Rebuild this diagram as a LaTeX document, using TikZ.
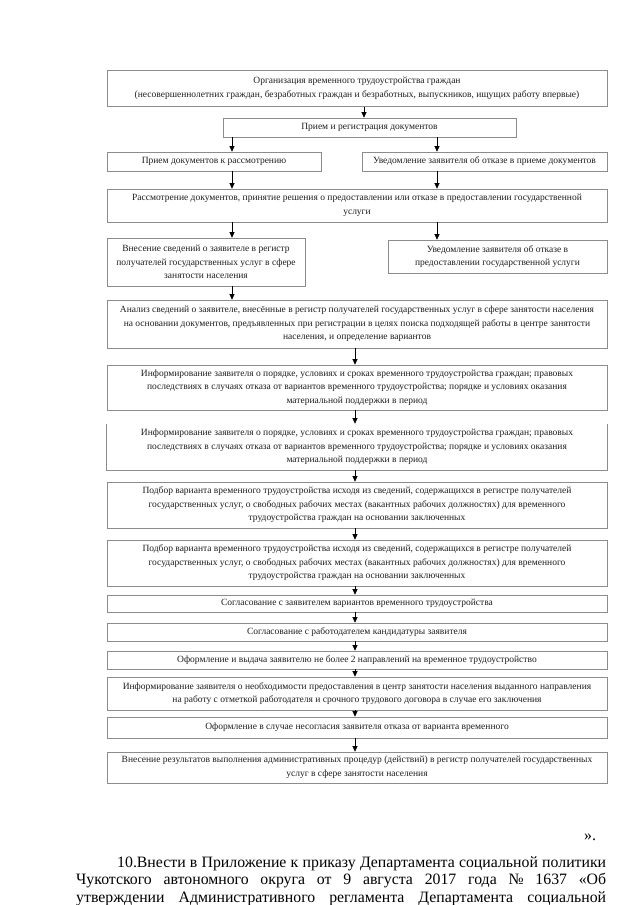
\documentclass[tikz,border=0pt]{standalone}
\usepackage{fontspec}
\setmainfont{Liberation Serif}
\usetikzlibrary{arrows.meta}
\definecolor{boxgray}{RGB}{140,140,140}
\definecolor{txt}{RGB}{30,30,30}
\begin{document}
\begin{tikzpicture}[x=1pt,y=-1pt,
  box/.style={draw=boxgray, line width=0.7pt, inner sep=0pt, align=center, text=txt,
    font=\fontsize{9.5}{13.6}\selectfont},
  arr/.style={line width=0.6pt, -{Triangle[width=5pt,length=5.5pt]}},
  para/.style={inner sep=0pt, anchor=base west, font=\fontsize{15.8}{17}\selectfont, text=black}]
\fill[white] (0,0) rectangle (640,905);
\useasboundingbox (0,0) rectangle (640,905);

\coordinate (xa) at (364,0);
\coordinate (xl) at (232,0);
\coordinate (xr) at (437,0);
\coordinate (xm) at (355,0);

\node[box, minimum width=500pt, minimum height=36pt] (b1) at (357,88.5)
  {Организация временного трудоустройства граждан\\(несовершеннолетних граждан, безработных граждан и безработных, выпускников, ищущих работу впервые)};
\node[box, minimum width=293pt, minimum height=19pt] (b2) at (369.5,127.5)
  {Прием и регистрация документов};
\node[box, minimum width=214pt, minimum height=19pt] (b3l) at (214,161.5)
  {Прием документов к рассмотрению};
\node[box, minimum width=245pt, minimum height=19pt] (b3r) at (484.5,161.5)
  {Уведомление заявителя об отказе в приеме документов};
\node[box, minimum width=500pt, minimum height=33pt] (b4) at (357,205.5)
  {Рассмотрение документов, принятие решения о предоставлении или отказе в предоставлении государственной\\услуги};
\node[box, minimum width=198pt, minimum height=48pt] (b5l) at (206,262)
  {Внесение сведений о заявителе в регистр\\получателей государственных услуг в сфере\\занятости населения};
\node[box, minimum width=219pt, minimum height=33pt] (b5r) at (497.5,256.5)
  {Уведомление заявителя об отказе в\\предоставлении государственной услуги};
\node[box, minimum width=500pt, minimum height=48pt] (b6) at (357,324)
  {Анализ сведений о заявителе, внесённые в регистр получателей государственных услуг в сфере занятости населения\\на основании документов, предъявленных при регистрации в целях поиска подходящей работы в центре занятости\\населения, и определение вариантов};
\node[box, minimum width=500pt, minimum height=45pt] (b7) at (357,387.5)
  {Информирование заявителя о порядке, условиях и сроках временного трудоустройства граждан; правовых\\последствиях в случаях отказа от вариантов временного трудоустройства; порядке и условиях оказания\\материальной поддержки в период};
\node[box, draw=none, minimum width=500pt, minimum height=46pt] (b8) at (357,447)
  {Информирование заявителя о порядке, условиях и сроках временного трудоустройства граждан; правовых\\последствиях в случаях отказа от вариантов временного трудоустройства; порядке и условиях оказания\\материальной поддержки в период};
\draw[boxgray, line width=0.7pt] (b8.north west) -- (b8.south west) -- (b8.south east) -- (b8.north east);
\node[box, minimum width=500pt, minimum height=46pt] (b9) at (357,505)
  {Подбор варианта временного трудоустройства исходя из сведений, содержащихся в регистре получателей\\государственных услуг, о свободных рабочих местах (вакантных рабочих должностях) для временного\\трудоустройства граждан на основании заключенных};
\node[box, minimum width=500pt, minimum height=46pt] (b10) at (357,563)
  {Подбор варианта временного трудоустройства исходя из сведений, содержащихся в регистре получателей\\государственных услуг, о свободных рабочих местах (вакантных рабочих должностях) для временного\\трудоустройства граждан на основании заключенных};
\node[box, minimum width=500pt, minimum height=17pt] (b11) at (357,603.5)
  {Согласование с заявителем вариантов временного трудоустройства};
\node[box, minimum width=500pt, minimum height=18pt] (b12) at (357,632)
  {Согласование с работодателем кандидатуры заявителя};
\node[box, minimum width=500pt, minimum height=18pt] (b13) at (357,660)
  {Оформление и выдача заявителю не более 2 направлений на временное трудоустройство};
\node[box, minimum width=500pt, minimum height=33pt] (b14) at (357,693.5)
  {Информирование заявителя о необходимости предоставления в центр занятости населения выданного направления\\на работу с отметкой работодателя и срочного трудового договора в случае его заключения};
\node[box, minimum width=500pt, minimum height=21pt] (b15) at (357,727.5)
  {Оформление в случае несогласия заявителя отказа от варианта временного};
\node[box, minimum width=500pt, minimum height=31pt] (b16) at (357,767.5)
  {Внесение результатов выполнения административных процедур (действий) в регистр получателей государственных\\услуг в сфере занятости населения};

\draw[arr] (b1.south -| xa) -- (b2.north -| xa);
\draw[arr] (b2.south -| xl) -- (b3l.north -| xl);
\draw[arr] (b2.south -| xr) -- (b3r.north -| xr);
\draw[arr] (b3l.south -| xl) -- (b4.north -| xl);
\draw[arr] (b3r.south -| xr) -- (b4.north -| xr);
\draw[arr] (b4.south -| xl) -- (b5l.north -| xl);
\draw[arr] (b4.south -| xr) -- (b5r.north -| xr);
\draw[arr] (b5l.south -| xl) -- (b6.north -| xl);
\draw[arr] (b6.south -| xm) -- (b7.north -| xm);
\draw[arr] (b7.south -| xm) -- (b8.north -| xm);
\draw[arr] (b8.south -| xm) -- (b9.north -| xm);
\draw[arr] (b9.south -| xm) -- (b10.north -| xm);
\draw[arr] (b10.south -| xm) -- (b11.north -| xm);
\draw[arr] (b11.south -| xm) -- (b12.north -| xm);
\draw[arr] (b12.south -| xm) -- (b13.north -| xm);
\draw[arr] (b13.south -| xm) -- (b14.north -| xm);
\draw[arr] (b14.south -| xm) -- (b15.north -| xm);
\draw[arr] (b15.south -| xm) -- (b16.north -| xm);

\node[para] (q) at (584,840) {».};
\node[para] (p1) at (117,867) {\makebox[489pt][s]{10.Внести в Приложение к приказу Департамента социальной политики}};
\node[para] (p2) at (76,884.5) {\makebox[530pt][s]{Чукотского автономного округа от 9 августа 2017 года № 1637 «Об}};
\node[para] (p3) at (76,902) {\makebox[530pt][s]{утверждении Административного регламента Департамента социальной}};
\end{tikzpicture}
\end{document}
